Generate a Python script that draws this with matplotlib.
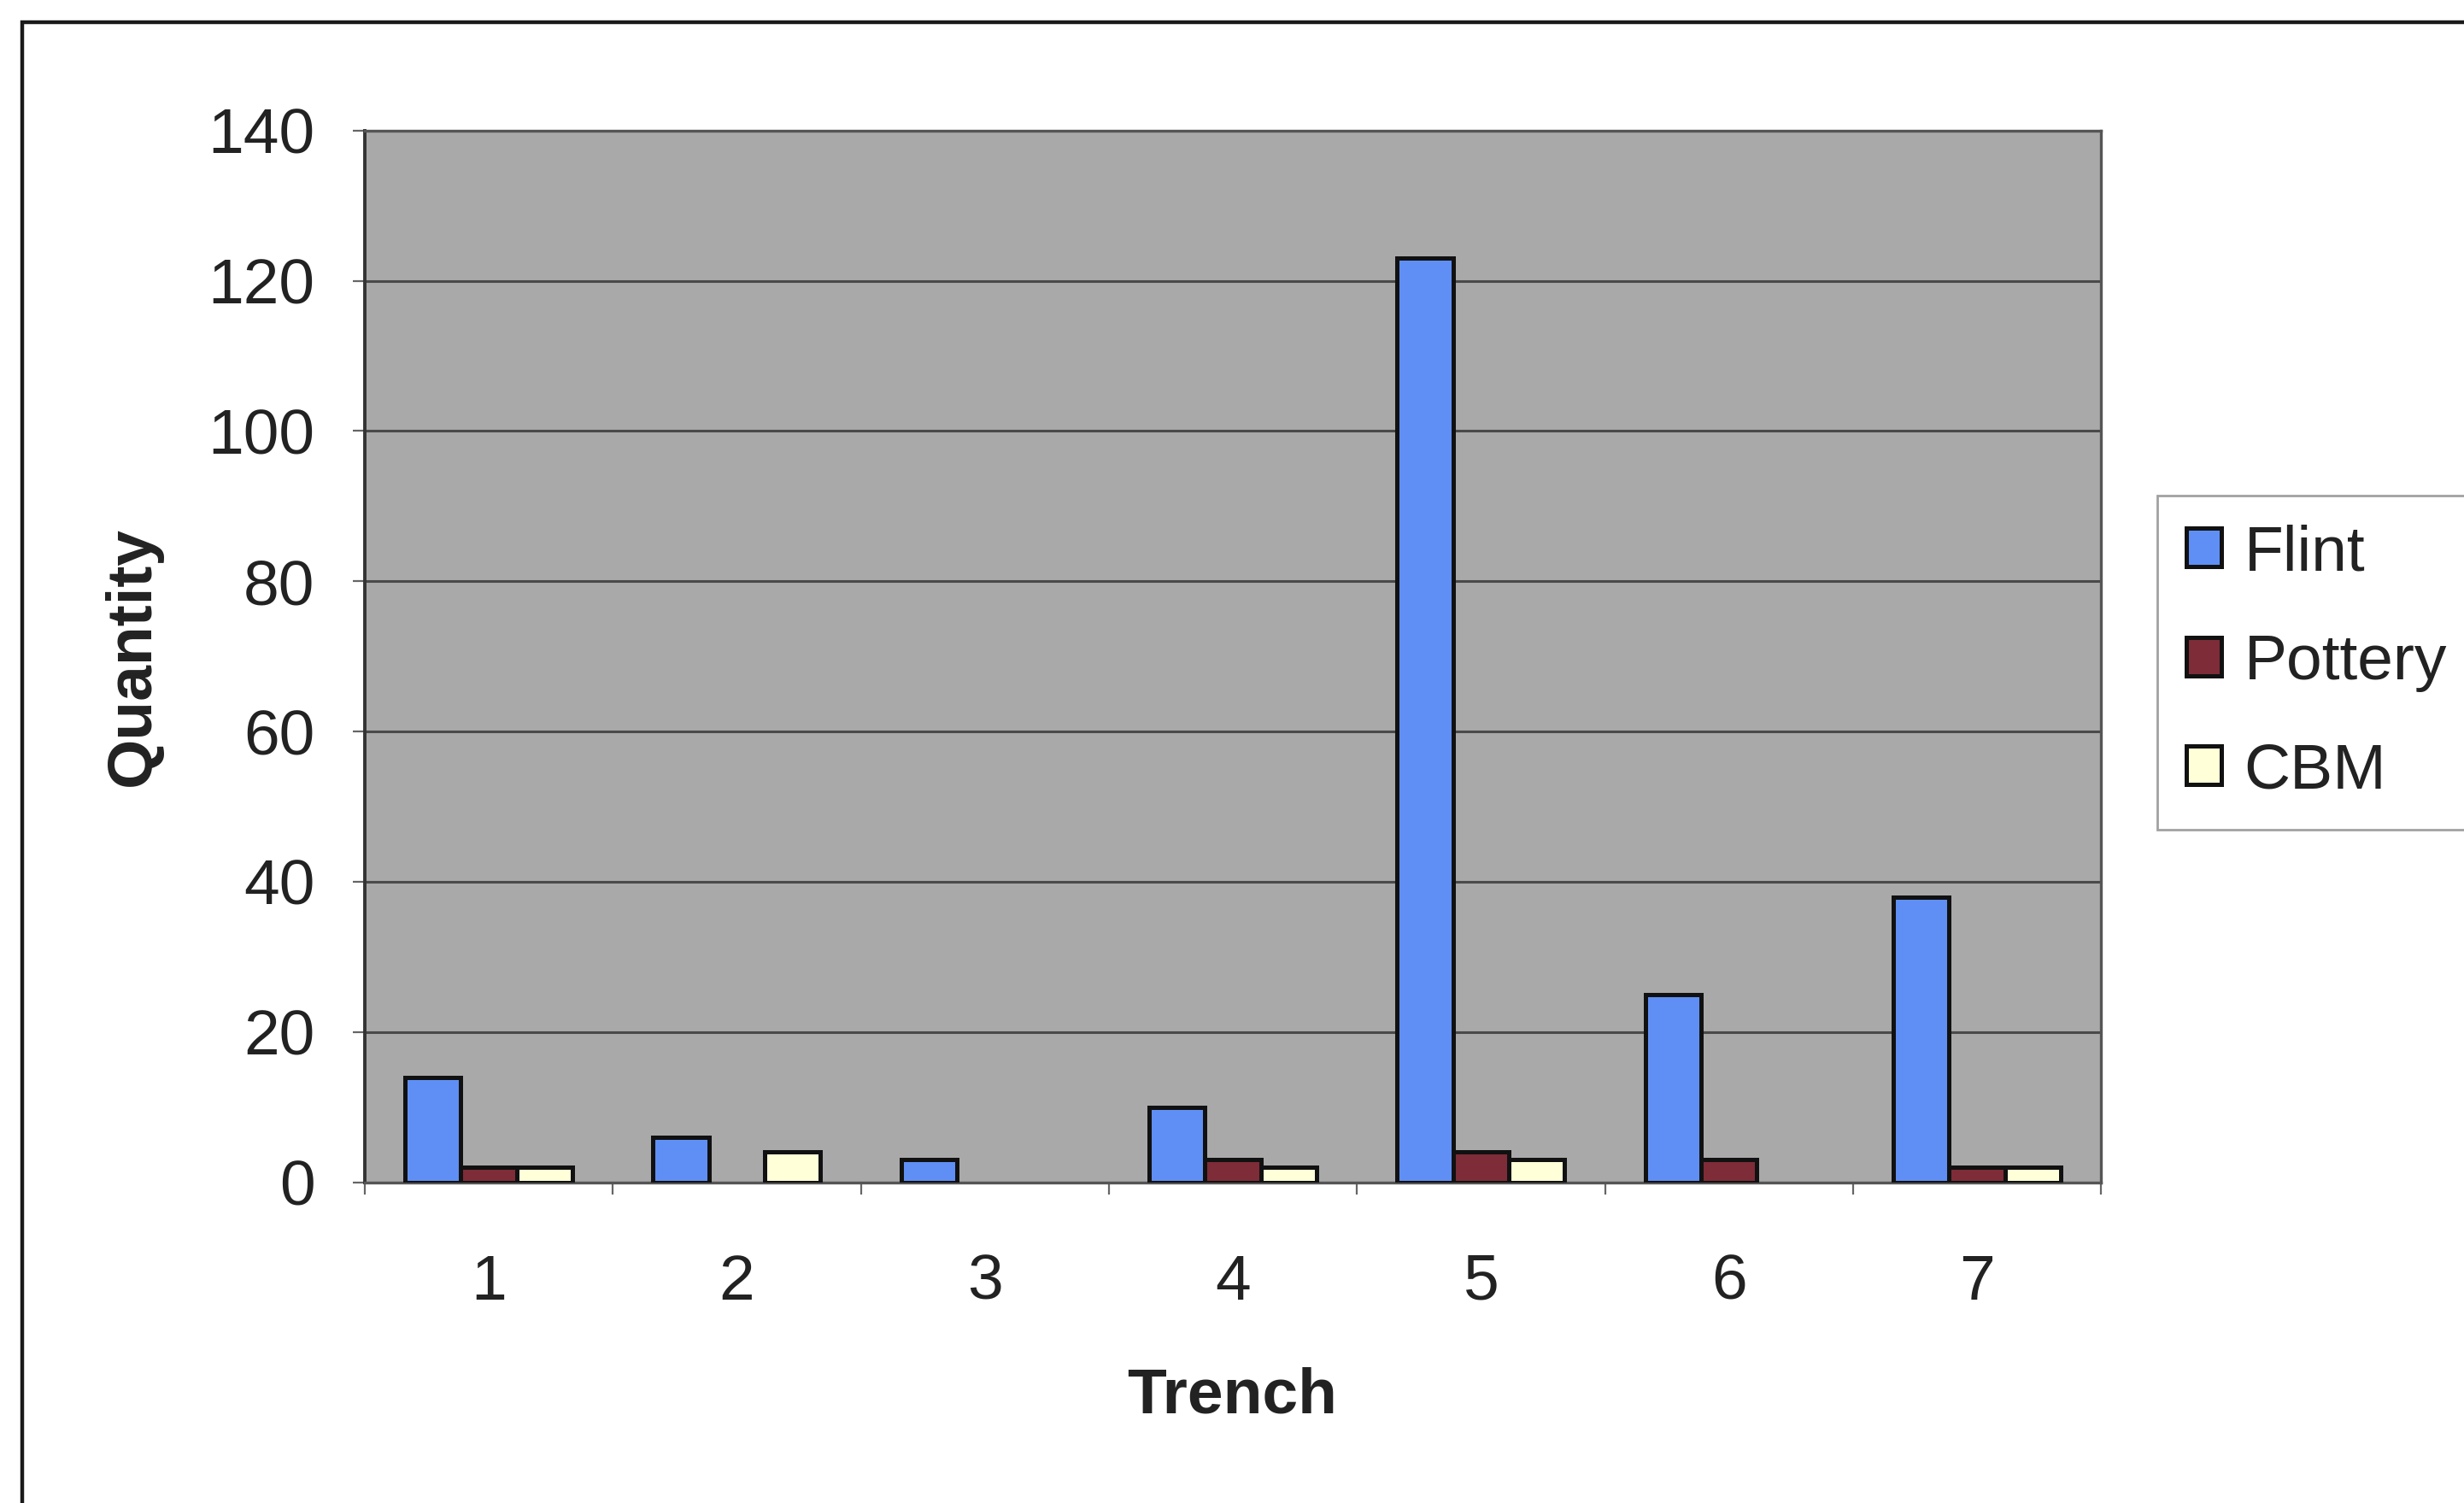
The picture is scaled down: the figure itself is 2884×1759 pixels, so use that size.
"""Finds per trench: grouped bars of Flint, Pottery and CBM counts."""

import matplotlib

matplotlib.use("Agg")
import matplotlib.pyplot as plt
import numpy as np
from matplotlib.patches import Rectangle

plt.rcParams["font.family"] = ["Liberation Sans", "DejaVu Sans"]

# Data
trenches = ["1", "2", "3", "4", "5", "6", "7"]
flint = [14, 6, 3, 10, 123, 25, 38]
pottery = [2, 0, 0, 3, 4, 3, 2]
cbm = [2, 4, 0, 2, 3, 0, 2]

series_names = ["Flint", "Pottery", "CBM"]
series_colors = ["#5F8FF5", "#7E2C38", "#FFFFD8"]


def main() -> None:
    fig = plt.figure(figsize=(14.42, 8.795), dpi=200)
    fig.patch.set_facecolor("white")

    # Outer chart-area border (right and bottom edges fall outside the picture)
    fig.patches.append(
        Rectangle((0.0089, -0.2), 1.3, 0.2 + 0.9854, transform=fig.transFigure,
                  fill=False, edgecolor="#1a1a1a", linewidth=1.6)
    )

    ax = fig.add_axes([0.148, 0.2134, 0.7047, 0.6998])
    ax.set_facecolor("#A9A9A9")

    x = np.arange(len(trenches))
    width = 0.225
    for i, (vals, name, color) in enumerate(zip([flint, pottery, cbm], series_names, series_colors)):
        # empty counts get no outline, as in the original
        lws = [1.8 if v > 0 else 0 for v in vals]
        ax.bar(x + (i - 1) * width, vals, width, color=color, edgecolor="#111111",
               linewidth=lws, label=name, zorder=3)

    ax.set_xlim(-0.5, len(trenches) - 0.5)
    ax.set_ylim(0, 140)
    ax.set_yticks(np.arange(0, 141, 20))
    ax.yaxis.grid(True, color="#4a4a4a", linewidth=1.1, zorder=1)
    ax.set_axisbelow(True)

    ax.set_xticks(x)
    ax.set_xticklabels(trenches)
    ax.set_xticks(np.arange(-0.5, len(trenches), 1), minor=True)
    ax.tick_params(axis="x", which="major", length=0, pad=30, labelsize=27, colors="#222222")
    ax.tick_params(axis="x", which="minor", length=5, width=0.8, color="#666666")
    ax.tick_params(axis="y", length=5, width=0.8, color="#666666", pad=16, labelsize=27,
                   labelcolor="#222222")

    for side in ["top", "right"]:
        ax.spines[side].set_color("#555555")
        ax.spines[side].set_linewidth(1.2)
    ax.spines["left"].set_color("#333333")
    ax.spines["left"].set_linewidth(1.4)
    ax.spines["bottom"].set_color("#555555")
    ax.spines["bottom"].set_linewidth(1.2)

    fig.text(0.054, 0.5634, "Quantity", rotation=90, ha="center", va="center",
             fontsize=27, fontweight="bold", color="#222222")
    fig.text(0.5, 0.071, "Trench", ha="center", va="center",
             fontsize=27, fontweight="bold", color="#222222")

    leg = fig.legend(loc="upper left", bbox_to_anchor=(0.8756, 0.6705), fontsize=27,
                     frameon=True, fancybox=False, handlelength=0.55, handleheight=0.55,
                     handletextpad=0.35, labelspacing=0.78, borderpad=0.45,
                     borderaxespad=0)
    leg.get_frame().set_edgecolor("#8a8a8a")
    leg.get_frame().set_linewidth(1.0)
    for t in leg.get_texts():
        t.set_color("#222222")
    for h in leg.legend_handles:
        h.set_linewidth(1.8)

    fig.savefig("out.png", dpi=200, facecolor="white")
    plt.close(fig)


if __name__ == "__main__":
    main()
